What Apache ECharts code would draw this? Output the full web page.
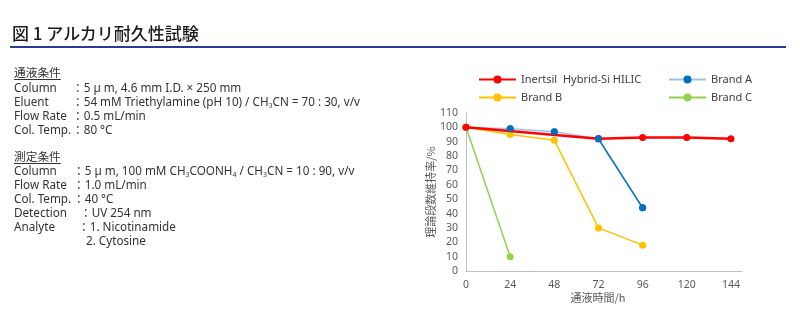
<!DOCTYPE html>
<html lang="ja">
<head>
    <meta charset="UTF-8">
    <title>アルカリ耐久性試験</title>
    <script src="https://cdn.jsdelivr.net/npm/echarts@6/dist/echarts.min.js"></script>
    <style>
        html, body {margin: 0; padding: 0; background: #fff;}
        #wrap {position: relative; width: 800px; height: 318px; overflow: hidden;
            font-family: "Noto Sans", "Noto Sans CJK JP", sans-serif; color: #333;}
        #chart {position: absolute; left: 0; top: 0; width: 800px; height: 318px;}
        .title {position: absolute; left: 12px; top: 21px; font-size: 17px; font-weight: 500; color: #1a1a1a; line-height: 24px;
            font-family: "Noto Sans CJK JP", sans-serif;}
        .rule {position: absolute; left: 10px; top: 46px; width: 776px; height: 2px; background: #2e3b8c;}
        .row {position: absolute; left: 14px; font-size: 11.7px; line-height: 14px; white-space: nowrap;}
        .row .v {position: absolute; top: 0;}
        .head {text-decoration: underline; text-underline-offset: 2px; font-family: "Noto Sans CJK JP", sans-serif;}
        .c {font-family: "Noto Sans CJK JP", sans-serif;}
        sub {font-size: 7px; vertical-align: -2px; line-height: 0;}
    </style>
</head>
<body>
<div id="wrap">
    <div id="chart"></div>
    <div class="title">図 1 アルカリ耐久性試験</div>
    <div class="rule"></div>
    <div id="cond"></div>
</div>
<script type="text/javascript">
    // conditions text: [label, value, top, colon x]
    var condRows = [
        ['<span class="head">通液条件</span>', '', 65, 0],
        ['Column', '5 &micro; m, 4.6 mm I.D. × 250 mm', 80, 58],
        ['Eluent', '54 mM Triethylamine (pH 10) / CH<sub>3</sub>CN = 70 : 30, v/v', 94, 58],
        ['Flow Rate', '0.5 mL/min', 108, 58],
        ['Col. Temp.', '80 °C', 122, 58],
        ['<span class="head">測定条件</span>', '', 149, 0],
        ['Column', '5 &micro; m, 100 mM CH<sub>3</sub>COONH<sub>4</sub> / CH<sub>3</sub>CN = 10 : 90, v/v', 163, 59],
        ['Flow Rate', '1.0 mL/min', 177, 59],
        ['Col. Temp.', '40 °C', 191, 59],
        ['Detection', 'UV 254 nm', 205, 66],
        ['Analyte', '1. Nicotinamide', 219, 64],
        ['', '2. Cytosine', 233, 72]
    ];

    var hours = [0, 24, 48, 72, 96, 120, 144];
    var inertsilHours = [0, 72, 96, 120, 144];
    var inertsil = [100, 92, 93, 93, 92];
    var brandA = [100, 99, 97, 92, 44];
    var brandB = [100, 95, 91, 30, 18];
    var brandC = [100, 10];
    var yTicks = [0, 110, 10];

    var html = '';
    for (var i = 0, r; r = condRows[i++];) {
        var val = r[1];
        if (val && r[0]) val = '<span class="c">：</span>' + val;
        html += '<div class="row" style="top:' + r[2] + 'px">' + r[0] +
            (val ? '<span class="v" style="left:' + r[3] + 'px">' + val + '</span>' : '') + '</div>';
    }
    document.getElementById('cond').innerHTML = html;

    function pairs(xs, ys) {
        var out = [];
        for (var i = 0; i < ys.length; i++) out.push([xs[i], ys[i]]);
        return out;
    }

    var axisGrey = '#bfbfbf', labelGrey = '#595959';
    var myChart = echarts.init(document.getElementById('chart'));
    myChart.setOption({
        animation: false,
        grid: {left: 466, right: 58, top: 113, bottom: 47},
        legend: [{
            left: 473, top: 69, orient: 'vertical', itemWidth: 37, itemHeight: 10, itemGap: 7,
            textStyle: {fontSize: 11, color: '#404040', fontFamily: 'Noto Sans'},
            data: ['Inertsil  Hybrid-Si HILIC', 'Brand B']
        }, {
            left: 663, top: 69, orient: 'vertical', itemWidth: 37, itemHeight: 10, itemGap: 7,
            textStyle: {fontSize: 11, color: '#404040', fontFamily: 'Noto Sans'},
            data: ['Brand A', 'Brand C']
        }],
        xAxis: {
            type: 'value', min: 0, max: 150, interval: 24,
            name: '通液時間/h', nameLocation: 'middle', nameGap: 18,
            nameTextStyle: {fontSize: 11, color: labelGrey, fontFamily: 'Noto Sans CJK JP', padding: [0, 12, 0, 0]},
            axisLine: {lineStyle: {color: axisGrey, width: 1}},
            axisTick: {show: false},
            splitLine: {show: false},
            axisLabel: {
                fontSize: 10.5, color: labelGrey, margin: 9, fontFamily: 'Noto Sans',
                formatter: function (v) { return hours.indexOf(v) >= 0 ? v : ''; }
            }
        },
        yAxis: {
            type: 'value', min: yTicks[0], max: yTicks[1], interval: yTicks[2],
            name: '理論段数維持率/%', nameLocation: 'middle', nameGap: 30, nameRotate: 90,
            nameTextStyle: {fontSize: 11, color: labelGrey, fontFamily: 'Noto Sans CJK JP'},
            axisLine: {show: true, lineStyle: {color: axisGrey, width: 1}},
            axisTick: {show: false},
            splitLine: {show: false},
            axisLabel: {fontSize: 10.5, color: labelGrey, margin: 8, fontFamily: 'Noto Sans'}
        },
        series: [{
            name: 'Brand A', type: 'line', z: 2,
            data: pairs(hours, brandA),
            symbol: 'circle', symbolSize: 7,
            lineStyle: {color: '#9dc3e6', width: 1.5},
            itemStyle: {color: '#0070c0'}
        }, {
            name: 'Brand B', type: 'line', z: 2,
            data: pairs(hours, brandB),
            symbol: 'circle', symbolSize: 7,
            lineStyle: {color: '#ffc000', width: 1.5},
            itemStyle: {color: '#ffc000'}
        }, {
            name: 'Brand C', type: 'line', z: 2,
            data: pairs(hours, brandC),
            symbol: 'circle', symbolSize: 7,
            lineStyle: {color: '#92d050', width: 1.5},
            itemStyle: {color: '#92d050'}
        }, {
            name: 'Inertsil  Hybrid-Si HILIC', type: 'line', z: 3,
            data: pairs(inertsilHours, inertsil),
            symbol: 'circle', symbolSize: 7,
            lineStyle: {color: '#ff0000', width: 2.5},
            itemStyle: {color: '#ff0000'}
        }, {
            // darker tail of Brand A
            name: 'Brand A tail', type: 'line', z: 4,
            data: pairs(hours.slice(3, 5), brandA.slice(3, 5)),
            symbol: 'circle', symbolSize: 7,
            lineStyle: {color: '#0070c0', width: 1.5},
            itemStyle: {color: '#0070c0'}
        }, {
            name: 'Brand A pts', type: 'scatter', z: 4,
            data: pairs(hours.slice(1, 3), brandA.slice(1, 3)),
            symbol: 'circle', symbolSize: 7,
            itemStyle: {color: '#0070c0'}
        }]
    });
</script>
</body>
</html>
